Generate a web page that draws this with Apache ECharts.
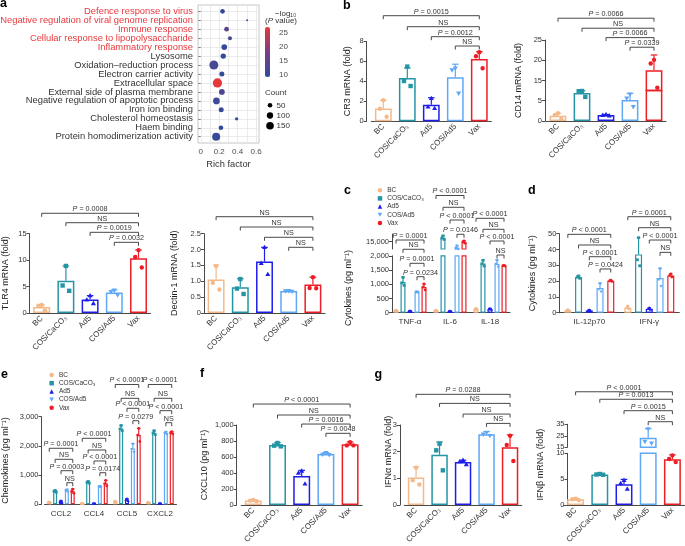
<!DOCTYPE html>
<html>
<head>
<meta charset="utf-8">
<script src="https://cdn.jsdelivr.net/npm/echarts@6.0.0/dist/echarts.min.js"></script>
<style>
html, body { margin: 0; padding: 0; background: #fff; }
#chart { width: 685px; height: 546px; }
</style>
</head>
<body>
<div id="chart"></div>
<script>
// ---------- data ----------
var groups = ['BC', 'COS/CaCO₃', 'Ad5', 'COS/Ad5', 'Vax'];

// a: enrichment dot plot
var goTerms = ['Defence response to virus', 'Negative regulation of viral genome replication', 'Immune response',
    'Cellular response to lipopolysaccharide', 'Inflammatory response', 'Lysosome', 'Oxidation–reduction process',
    'Electron carrier activity', 'Extracellular space', 'External side of plasma membrane',
    'Negative regulation of apoptotic process', 'Iron ion binding', 'Cholesterol homeostasis', 'Haem binding',
    'Protein homodimerization activity'];
var goRich = [0.236, 0.503, 0.28, 0.317, 0.255, 0.244, 0.142, 0.229, 0.181, 0.229, 0.17, 0.222, 0.389, 0.219, 0.167];
var goCount = [52, 3, 52, 35, 80, 68, 210, 60, 226, 80, 113, 60, 21, 52, 165];
var goLogP = [10.5, 13, 14.5, 12, 10.5, 10, 12.5, 10, 27, 13, 11.5, 10.5, 9.8, 10, 10.5];
var goRedTerms = 5;
var richTicks = [0, 0.2, 0.4, 0.6];
var logPTicks = [10, 15, 20, 25];
var countTicks = [50, 100, 150];

// b: CR3, CD14
var cr3Ticks = [0, 2, 4, 6, 8];
var cr3Mean = [1.27, 4.34, 1.66, 4.41, 6.23];
var cr3Sd = [0.83, 1.0, 0.7, 1.3, 0.73];
var cr3Pts = [[2.1, 1.25, 0.45], [5.47, 4.03, 3.53], [2.3, 1.45, 1.3], [5.3, 5.13, 2.8], [6.9, 6.5, 5.3]];
var cr3Sig = ['P = 0.0015', 'NS', 'P = 0.0012', 'NS'];
var cr3SigY = [10.56, 9.46, 8.46, 7.53];

var cd14TicksLow = [0, 5];
var cd14TicksHigh = [15, 20, 25];
var cd14Mean = [1.3, 6.9, 1.45, 5.2, 17.5];
var cd14Sd = [0.6, 0.55, 0.15, 1.6, 3.8];
var cd14Pts = [[1.9, 1.45, 0.5], [7.4, 7.35, 5.95], [1.6, 1.45, 1.3], [6.6, 5.6, 3.5], [20.1, 19.2, 13.2]];
var cd14Sig = ['P = 0.0066', 'NS', 'P = 0.0066', 'P = 0.0339'];
var cd14SigY = [25.36, 22.89, 20.57, 18.2];

var tlr4Ticks = [0, 5, 10, 15];
var tlr4Mean = [1.13, 6.1, 2.53, 3.9, 10.37];
var tlr4Sd = [0.4, 2.8, 0.75, 0.45, 1.55];
var tlr4Pts = [[1.5, 1.4, 0.5], [8.9, 5.2, 4.2], [3.3, 2.5, 1.8], [4.3, 4.0, 3.4], [11.9, 10.6, 8.6]];
var tlr4Sig = ['P = 0.0008', 'NS', 'P = 0.0019', 'P = 0.0032'];
var tlr4SigY = [18.86, 17.08, 15.26, 13.37];

var dectinTicks = [0, 0.5, 1, 1.5, 2, 2.5];
var dectinMean = [1.06, 0.81, 1.62, 0.69, 0.9];
var dectinSd = [0.45, 0.27, 0.45, 0.02, 0.23];
var dectinPts = [[1.48, 0.95, 0.74], [1.07, 0.77, 0.6], [2.07, 1.57, 1.22], [0.7, 0.69, 0.68], [1.13, 0.79, 0.78]];
var dectinSig = ['NS', 'NS', 'NS', 'NS'];
var dectinSigY = [3.036, 2.711, 2.387, 2.071];

// c: cytokines (groups x cytokines)
var cCats = ['TNF-α', 'IL-6', 'IL-18'];
var cTicksLow = [0, 500, 1000, 1500, 2000];
var cTicksHigh = [10000, 15000, 20000];
var cMean = [[70, 70, 120], [1080, 17500, 1730], [50, 50, 130], [730, 10900, 1720], [900, 14700, 1650]];
var cSd = [[20, 15, 30], [170, 1300, 120], [20, 15, 20], [15, 1100, 130], [110, 800, 15]];
var cPts = [
    [[90, 70, 55], [85, 70, 55], [150, 115, 100]],
    [[1240, 1050, 960], [18800, 17300, 16400], [1840, 1720, 1640]],
    [[70, 45, 35], [65, 45, 40], [150, 125, 115]],
    [[740, 730, 720], [12200, 10600, 10000], [1840, 1720, 1610]],
    [[1010, 900, 800], [15400, 14800, 13900], [1660, 1650, 1640]]
];
var cSig = [['P = 0.0001', 'NS', 'P = 0.0001', 'P = 0.0234'],
    ['P < 0.0001', 'NS', 'P < 0.0001', 'P = 0.0146'],
    ['P < 0.0001', 'NS', 'P < 0.0001', 'NS']];
var cSigY = [[2555, 2229, 1736, 1265], [4120, 3705, 3258, 2756], [3318, 2932, 2520, 2028]];

// d
var dCats = ['IL-12p70', 'IFN-γ'];
var dTicks = [0, 10, 20, 30, 40, 50];
var dMean = [[1.5, 3.2], [22.6, 36.9], [1.4, 2.5], [15.6, 21.9], [20.2, 23.6]];
var dSd = [[0.4, 1.0], [0.8, 10.6], [0.4, 0.6], [3, 6], [0.4, 1.0]];
var dPts = [
    [[1.9, 1.5, 1.2], [4.2, 3, 2.4]],
    [[23.3, 22.6, 21.8], [47.5, 33.5, 29.7]],
    [[1.8, 1.4, 1.1], [3.1, 2.4, 2.0]],
    [[18.5, 15, 13.4], [28, 21, 16.8]],
    [[20.6, 20.2, 19.8], [24.6, 23.6, 22.6]]
];
var dSig = [['P < 0.0001', 'NS', 'P < 0.0001', 'P = 0.0424'], ['P = 0.0001', 'NS', 'P < 0.0001', 'NS']];
var dSigY = [[49.6, 42.85, 35.44, 27.66], [60.76, 53.8, 46.0, 38.2]];

// e: chemokines
var eCats = ['CCL2', 'CCL4', 'CCL5', 'CXCL2'];
var eTicks = [0, 1000, 2000, 3000];
var eMean = [[60, 20, 80, 50], [445, 753, 2600, 2450], [90, 25, 150, 25], [467, 604, 1915, 2440], [445, 718, 2372, 2450]];
var eSd = [[20, 10, 30, 15], [30, 30, 100, 70], [30, 10, 40, 10], [40, 20, 160, 40], [75, 100, 230, 40]];
var ePts = [
    [[80, 60, 45], [30, 20, 12], [110, 80, 55], [65, 50, 40]],
    [[475, 445, 415], [783, 753, 725], [2700, 2580, 2520], [2520, 2440, 2390]],
    [[120, 90, 65], [35, 25, 18], [190, 150, 115], [35, 25, 18]],
    [[505, 460, 435], [624, 600, 590], [2070, 1890, 1790], [2480, 2440, 2400]],
    [[520, 440, 380], [818, 710, 630], [2600, 2370, 2150], [2490, 2450, 2410]]
];
var eSig = [['P = 0.0001', 'NS', 'P = 0.0003', 'NS'], ['P < 0.0001', 'NS', 'P < 0.0001', 'P = 0.0174'],
    ['P < 0.0001', 'NS', 'P < 0.0001', 'P = 0.0279'], ['P < 0.0001', 'NS', 'P < 0.0001', 'NS']];
var eSigY = [[1918, 1541, 1151, 740], [2260, 1860, 1483, 1082], [4103, 3630, 3288, 2863], [4103, 3630, 3206, 2795]];

// f: CXCL10
var fTicks = [0, 200, 400, 600, 800, 1000];
var fMean = [55, 750, 363, 637, 758];
var fSd = [10, 30, 70, 18, 30];
var fPts = [[62, 55, 47], [775, 742, 733], [425, 400, 265], [652, 632, 627], [785, 745, 745]];
var fSig = ['P < 0.0001', 'NS', 'P = 0.0016', 'P = 0.0048'];
var fSigY = [1262, 1125, 1012, 896];

// g: IFNα, IFNβ
var ifnaTicks = [0, 1, 2, 3];
var ifnaMean = [1.03, 1.88, 1.61, 2.65, 2.17];
var ifnaSd = [0.4, 0.48, 0.07, 0.1, 0.46];
var ifnaPts = [[1.4, 0.93, 0.77], [2.3, 2.05, 1.3], [1.68, 1.63, 1.52], [2.72, 2.65, 2.6], [2.6, 2.25, 1.65]];
var ifnaSig = ['P = 0.0288', 'NS', 'NS', 'NS'];
var ifnaSigY = [4.15, 3.81, 3.41, 3.06];

var ifnbTicksLow = [0, 5, 10];
var ifnbTicksHigh = [15, 25, 35];
var ifnbMean = [1.1, 5.9, 4.0, 23.2, 8.85];
var ifnbSd = [0.2, 0.15, 0.95, 8, 0.85];
var ifnbPts = [[1.2, 1.1, 0.95], [6.0, 5.9, 5.85], [4.8, 4.2, 3.1], [31, 20, 18.5], [9.6, 8.9, 8.3]];
var ifnbSig = ['P < 0.0001', 'P = 0.0013', 'P = 0.0015', 'NS'];
var ifnbSigY = [21.9, 20.45, 18.24, 16.11];

// ---------- style ----------
var FONT = 'Liberation Sans, Arial, Helvetica, sans-serif';
var colors = ['#F4B98A', '#2495A5', '#1E1EEB', '#5EA8F6', '#EE1D25'];
var shapes = ['circle', 'square', 'up', 'down', 'circle'];
var legendIcons = ['circle', 'rect', 'triangle', 'path://M0,0L10,0L5,9Z', 'circle'];
var axisCol = '#4a4a4a';
var txtCol = '#333';
var jitter = [0, -1, 1];

var option = {
    animation: false,
    textStyle: { fontFamily: FONT },
    grid: [], xAxis: [], yAxis: [], series: [], graphic: [], legend: [], visualMap: []
};

function addGrid(r) {
    option.grid.push({
        left: r.left, top: r.top, width: r.width, height: r.height,
        containLabel: false, outerBoundsMode: 'none',
        show: !!r.show, borderColor: r.borderColor || 'transparent', borderWidth: r.borderWidth || 0,
        backgroundColor: 'transparent'
    });
    return option.grid.length - 1;
}

function fmtNum(v) {
    return v >= 1000 ? v.toLocaleString('en-US') : String(v);
}

function marker(shape, x, y, r, col) {
    if (shape === 'square') {
        return { type: 'rect', shape: { x: x - r, y: y - r, width: 2 * r, height: 2 * r }, style: { fill: col } };
    }
    if (shape === 'up') {
        return { type: 'polygon', shape: { points: [[x, y - r * 1.2], [x + r * 1.15, y + r * 0.8], [x - r * 1.15, y + r * 0.8]] }, style: { fill: col } };
    }
    if (shape === 'down') {
        return { type: 'polygon', shape: { points: [[x, y + r * 1.2], [x + r * 1.15, y - r * 0.8], [x - r * 1.15, y - r * 0.8]] }, style: { fill: col } };
    }
    return { type: 'circle', shape: { cx: x, cy: y, r: r }, style: { fill: col } };
}

function barOffset(p, g, band) {
    return p.single ? 0 : (g - 2) * band * p.barPct * (1 + p.gapPct);
}

function richP(s) {
    return s.charAt(0) === 'P' ? '{i|P}' + s.slice(1) : s;
}

// error bars + dots
function errRender(p, seg) {
    return function (params, api) {
        var c = api.value(0), m = api.value(1), g = api.value(2);
        var sd = p.single ? p.sd[c] : p.sd[g][c];
        var pts = p.single ? p.pts[c] : p.pts[g][c];
        var band = api.size([1, 0])[0];
        var cx = api.coord([c, seg.min])[0] + barOffset(p, g, band);
        var col = colors[g];
        var kids = [];
        if (m >= seg.min && m <= seg.max) {
            var y0 = api.coord([c, m])[1];
            var y1 = api.coord([c, m + sd])[1];
            var cap = p.single ? 3.3 : 1.8;
            kids.push({ type: 'line', shape: { x1: cx, y1: y0, x2: cx, y2: y1 }, style: { stroke: col, lineWidth: 1.2 } });
            kids.push({ type: 'line', shape: { x1: cx - cap, y1: y1, x2: cx + cap, y2: y1 }, style: { stroke: col, lineWidth: 1.2 } });
        }
        pts.forEach(function (v, k) {
            if (v < seg.min || v > seg.max) return;
            var x = cx + jitter[k] * (p.single ? 3.3 : 1.1);
            kids.push(marker(shapes[g], x, api.coord([c, v])[1], p.single ? 2.2 : 1.4, col));
        });
        return { type: 'group', children: kids };
    };
}

// significance brackets
function sigRender(p, texts) {
    return function (params, api) {
        var c = api.value(0), lvl = api.value(1), a = api.value(2), b = api.value(3);
        var band = api.size([1, 0])[0];
        var pt = api.coord([c, lvl]);
        var x1, x2;
        if (p.single) {
            x1 = api.coord([a, lvl])[0];
            x2 = api.coord([b, lvl])[0];
        } else {
            x1 = pt[0] + barOffset(p, a, band);
            x2 = pt[0] + barOffset(p, b, band);
        }
        var y = pt[1];
        return {
            type: 'group', children: [
                { type: 'polyline', shape: { points: [[x1, y + 3.5], [x1, y], [x2, y], [x2, y + 3.5]] },
                  style: { stroke: '#333', lineWidth: 0.9, fill: 'none' } },
                { type: 'text', style: {
                    x: (x1 + x2) / 2, y: y - 0.6, text: richP(texts[params.dataIndex]),
                    align: 'center', verticalAlign: 'bottom', fontSize: 7.2, fontFamily: FONT, fill: '#333',
                    rich: { i: { fontStyle: 'italic', fontSize: 7.2, fontFamily: FONT, fill: '#333' } }
                } }
            ]
        };
    };
}

function buildPanel(p) {
    var top = Math.min.apply(null, p.segs.map(function (s) { return s.top; }));
    var bottom = Math.max.apply(null, p.segs.map(function (s) { return s.top + s.height; }));
    var span = p.nameSpan || [top, bottom - top];

    // axis title carrier
    var gf = addGrid({ left: p.left, top: span[0], width: p.width, height: span[1] });
    option.xAxis.push({ gridIndex: gf, type: 'category', data: p.cats, show: false });
    option.yAxis.push({
        gridIndex: gf, type: 'value', offset: p.offset, name: p.name, nameLocation: 'middle', nameGap: p.nameGap,
        nameMoveOverlap: false,
        nameTextStyle: { fontSize: 9, color: '#222' },
        axisLine: { show: false }, axisTick: { show: false }, axisLabel: { show: false }, splitLine: { show: false }
    });

    var firstGi = null;
    p.segs.forEach(function (seg, si) {
        var gi = addGrid({ left: p.left, top: seg.top, width: p.width, height: seg.height });
        if (si === 0) firstGi = gi;
        option.xAxis.push({
            gridIndex: gi, type: 'category', data: p.cats, show: si === 0,
            axisLine: { lineStyle: { color: axisCol, width: 1 } },
            axisTick: { alignWithLabel: true, length: 3, lineStyle: { color: axisCol } },
            axisLabel: p.single
                ? { interval: 0, rotate: 45, fontSize: 8, color: txtCol, margin: 4 }
                : { interval: 0, fontSize: 8, color: txtCol, margin: 5 },
            splitLine: { show: false }
        });
        option.yAxis.push({
            gridIndex: gi, type: 'value', min: seg.min, max: seg.max, offset: p.offset,
            axisLine: { show: true, lineStyle: { color: axisCol, width: 1 } },
            axisTick: { show: true, length: 3, customValues: seg.ticks, lineStyle: { color: axisCol } },
            axisLabel: { customValues: seg.ticks, fontSize: 7.5, color: txtCol, margin: 3, formatter: p.fmt || fmtNum },
            splitLine: { show: false }
        });

        if (p.single) {
            option.series.push({
                type: 'bar', xAxisIndex: gi, yAxisIndex: gi, barWidth: '70%', silent: true, clip: true,
                data: p.mean.map(function (m, i) {
                    return { value: m, itemStyle: { color: 'rgba(255,255,255,0)', borderColor: colors[i], borderWidth: 1.5 } };
                })
            });
        } else {
            groups.forEach(function (gname, g) {
                option.series.push({
                    type: 'bar', name: gname, xAxisIndex: gi, yAxisIndex: gi, silent: true, clip: true,
                    barWidth: (p.barPct * 100) + '%', barGap: (p.gapPct * 100) + '%',
                    itemStyle: { color: 'rgba(255,255,255,0)', borderColor: colors[g], borderWidth: 1.2 },
                    data: p.mean[g]
                });
            });
        }

        var items = [];
        if (p.single) {
            p.mean.forEach(function (m, c) { items.push([c, m, c]); });
        } else {
            p.mean.forEach(function (row, g) { row.forEach(function (m, c) { items.push([c, m, g]); }); });
        }
        option.series.push({
            type: 'custom', xAxisIndex: gi, yAxisIndex: gi, silent: true, clip: false, z: 3,
            renderItem: errRender(p, seg), data: items
        });
    });

    var sigData = [], texts = [];
    if (p.single) {
        p.sig.forEach(function (s, k) { sigData.push([k, p.sigY[k], k, 4]); texts.push(s); });
    } else {
        p.sig.forEach(function (list, c) {
            list.forEach(function (s, k) { sigData.push([c, p.sigY[c][k], k, 4]); texts.push(s); });
        });
    }
    option.series.push({
        type: 'custom', xAxisIndex: firstGi, yAxisIndex: firstGi, silent: true, clip: false, z: 4,
        renderItem: sigRender(p, texts), data: sigData
    });
}

// ---------- panel a ----------
function dotSize(n) { return Math.sqrt(3 + 0.37 * n); }
var rowIdx = goTerms.map(function (t, i) { return i; });

var ga = addGrid({ left: 198, top: 5, width: 61, height: 138, show: true, borderColor: '#b8b8b8', borderWidth: 0.8 });
option.xAxis.push({
    gridIndex: ga, type: 'value', min: -0.03, max: 0.632,
    name: 'Rich factor', nameLocation: 'middle', nameGap: 17, nameMoveOverlap: false,
    nameTextStyle: { fontSize: 9.3, color: txtCol },
    axisLine: { show: false },
    axisTick: { show: false, customValues: [0, 0.1, 0.2, 0.3, 0.4, 0.5, 0.6] },
    axisLabel: { customValues: richTicks, fontSize: 8, color: '#4d4d4d', margin: 5,
        formatter: function (v) { return v === 0 ? '0' : v.toFixed(1); } },
    splitLine: { show: true, lineStyle: { color: '#e6e6e6', width: 0.8 } }
});
option.yAxis.push({
    gridIndex: ga, type: 'value', min: -0.7, max: 14.7, inverse: true,
    axisLine: { show: false },
    axisTick: { show: true, length: 2.5, customValues: rowIdx, lineStyle: { color: '#666', width: 0.8 } },
    axisLabel: { customValues: rowIdx, fontSize: 9.4, margin: 5,
        formatter: function (v) { return goTerms[v]; },
        color: function (v) { return v < goRedTerms ? '#E8383D' : '#333'; } },
    splitLine: { show: true, lineStyle: { color: '#e6e6e6', width: 0.8 } }
});
option.series.push({
    type: 'scatter', xAxisIndex: ga, yAxisIndex: ga, silent: true,
    data: goRich.map(function (r, i) { return [r, i, goCount[i], goLogP[i]]; }),
    symbolSize: function (d) { return dotSize(d[2]); },
    itemStyle: { opacity: 1 }
});
option.visualMap.push({
    type: 'continuous', seriesIndex: 0, dimension: 3, min: 9.3, max: 27.1,
    left: 265, top: 27, itemWidth: 5, itemHeight: 50, padding: 0,
    calculable: false, hoverLink: false,
    inRange: { color: ['#2C4C9C', '#7A3E87', '#E8373C'] }
});
var gcb = addGrid({ left: 265, top: 27, width: 5, height: 50 });
option.xAxis.push({ gridIndex: gcb, type: 'value', show: false });
option.yAxis.push({
    gridIndex: gcb, type: 'value', position: 'right', min: 9.3, max: 27.1,
    axisLine: { show: false }, axisTick: { show: false }, splitLine: { show: false },
    axisLabel: { customValues: logPTicks, fontSize: 8, color: '#4d4d4d', margin: 9 }
});
option.graphic.push(
    { type: 'text', x: 275, y: 13.3, style: { text: '−log₁₀', fontSize: 8, fontFamily: FONT, fill: '#333', verticalAlign: 'middle' } },
    { type: 'text', x: 265, y: 20.7, style: { text: '({i|P} value)', fontSize: 8, fontFamily: FONT, fill: '#333', verticalAlign: 'middle',
        rich: { i: { fontStyle: 'italic', fontSize: 8, fontFamily: FONT, fill: '#333' } } } },
    { type: 'text', x: 265, y: 92.7, style: { text: 'Count', fontSize: 8, fontFamily: FONT, fill: '#333', verticalAlign: 'middle' } }
);
var countY = [105.3, 115.5, 125.8];
countTicks.forEach(function (n, i) {
    option.graphic.push(
        { type: 'circle', shape: { cx: 270, cy: countY[i], r: dotSize(n) / 2 }, style: { fill: '#000' } },
        { type: 'text', x: 276.5, y: countY[i], style: { text: String(n), fontSize: 8, fontFamily: FONT, fill: '#333', verticalAlign: 'middle' } }
    );
});

// ---------- bar panels ----------
var panels = [
    { single: true, cats: groups, left: 371.3, width: 120, offset: 4.6, name: 'CR3 mRNA (fold)', nameGap: 14.5,
      segs: [{ top: 41.3, height: 80, min: 0, max: 8, ticks: cr3Ticks }],
      mean: cr3Mean, sd: cr3Sd, pts: cr3Pts, sig: cr3Sig, sigY: cr3SigY },
    { single: true, cats: groups, left: 546, width: 120, offset: 1, name: 'CD14 mRNA (fold)', nameGap: 21.5,
      segs: [{ top: 90.6, height: 30.4, min: 0, max: 7.5, ticks: cd14TicksLow },
             { top: 40, height: 50.6, min: 12.5, max: 25, ticks: cd14TicksHigh }],
      mean: cd14Mean, sd: cd14Sd, pts: cd14Pts, sig: cd14Sig, sigY: cd14SigY },
    { single: true, cats: groups, left: 29.6, width: 121, offset: 0, name: 'TLR4 mRNA (fold)', nameGap: 19.3,
      segs: [{ top: 233.7, height: 79.3, min: 0, max: 15, ticks: tlr4Ticks }],
      mean: tlr4Mean, sd: tlr4Sd, pts: tlr4Pts, sig: tlr4Sig, sigY: tlr4SigY },
    { single: true, cats: groups, left: 204, width: 121, offset: 0, name: 'Dectin-1 mRNA (fold)', nameGap: 25,
      segs: [{ top: 233.7, height: 79.3, min: 0, max: 2.5, ticks: dectinTicks }],
      fmt: function (v) { return v === 0 ? '0' : v.toFixed(1); },
      mean: dectinMean, sd: dectinSd, pts: dectinPts, sig: dectinSig, sigY: dectinSigY },
    { single: false, cats: cCats, left: 390, width: 120, offset: -2, name: 'Cytokines (pg ml⁻¹)', nameGap: 39,
      nameSpan: [258, 60], barPct: 0.125, gapPct: 0.4,
      segs: [{ top: 255.8, height: 56.9, min: 0, max: 2000, ticks: cTicksLow },
             { top: 234, height: 15, min: 10000, max: 20000, ticks: cTicksHigh }],
      mean: cMean, sd: cSd, pts: cPts, sig: cSig, sigY: cSigY },
    { single: false, cats: dCats, left: 559.3, width: 120, offset: 0, name: 'Cytokines (pg ml⁻¹)', nameGap: 22,
      barPct: 0.117, gapPct: 0.53,
      segs: [{ top: 233.7, height: 79, min: 0, max: 50, ticks: dTicks }],
      mean: dMean, sd: dSd, pts: dPts, sig: dSig, sigY: dSigY },
    { single: false, cats: eCats, left: 44.5, width: 132, offset: 3, name: 'Chemokines (pg ml⁻¹)', nameGap: 31,
      barPct: 0.121, gapPct: 0.47,
      segs: [{ top: 416.7, height: 87.6, min: 0, max: 3000, ticks: eTicks }],
      mean: eMean, sd: eSd, pts: ePts, sig: eSig, sigY: eSigY },
    { single: true, cats: groups, left: 241.2, width: 121, offset: 4.5, name: 'CXCL10 (pg ml⁻¹)', nameGap: 27.5,
      segs: [{ top: 425, height: 80, min: 0, max: 1000, ticks: fTicks }],
      mean: fMean, sd: fSd, pts: fPts, sig: fSig, sigY: fSigY },
    { single: true, cats: groups, left: 404.3, width: 117.5, offset: 4.3, name: 'IFNα mRNA (fold)', nameGap: 7,
      nameSpan: [411.7, 80],
      segs: [{ top: 425, height: 80, min: 0, max: 3, ticks: ifnaTicks }],
      mean: ifnaMean, sd: ifnaSd, pts: ifnaPts, sig: ifnaSig, sigY: ifnaSigY },
    { single: true, cats: groups, left: 563.5, width: 121, offset: -4, name: 'IFNβ mRNA (fold)', nameGap: 22.8,
      segs: [{ top: 453.3, height: 51.7, min: 0, max: 10, ticks: ifnbTicksLow },
             { top: 424.3, height: 23, min: 15, max: 35, ticks: ifnbTicksHigh }],
      mean: ifnbMean, sd: ifnbSd, pts: ifnbPts, sig: ifnbSig, sigY: ifnbSigY }
];
panels.forEach(buildPanel);

// legends for c and e
function legendAt(l, t) {
    return {
        left: l, top: t, orient: 'vertical', padding: 0, itemGap: 1.2, itemWidth: 4.5, itemHeight: 4.5,
        selectedMode: false,
        textStyle: { fontSize: 6.5, color: '#333', lineHeight: 6, fontFamily: FONT },
        data: groups.map(function (g, i) {
            return { name: g, icon: legendIcons[i], itemStyle: { color: colors[i], borderWidth: 0 } };
        })
    };
}
option.legend.push(legendAt(377.7, 186.7), legendAt(49.4, 371.5));

// panel letters
var letters = [['a', 0, 10.5], ['b', 343, 12], ['c', 344, 197.5], ['d', 528, 197.5],
    ['e', 1, 381.5], ['f', 200, 380], ['g', 374.5, 381]];
letters.forEach(function (l) {
    option.graphic.push({ type: 'text', x: l[1], y: l[2],
        style: { text: l[0], fontSize: 12.5, fontWeight: 'bold', fontFamily: FONT, fill: '#000', verticalAlign: 'bottom' } });
});

var myChart = echarts.init(document.getElementById('chart'), null, { renderer: 'canvas' });
myChart.setOption(option);
</script>
</body>
</html>
